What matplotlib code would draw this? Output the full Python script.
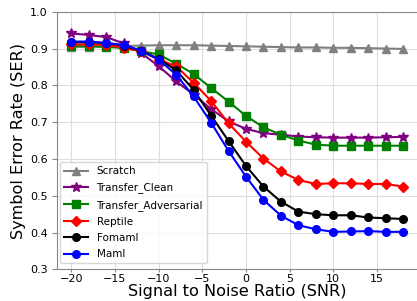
import matplotlib
matplotlib.use('Agg')
from matplotlib import pyplot as plt

# SNR points
snr = [-20, -18, -16, -14, -12, -10, -8, -6, -4, -2, 0, 2, 4, 6, 8, 10, 12, 14, 16, 18]

# symbol error rate per method
scratch = [0.905, 0.905, 0.906, 0.907, 0.908, 0.909, 0.909, 0.909, 0.908, 0.907,
           0.906, 0.905, 0.904, 0.903, 0.903, 0.902, 0.902, 0.901, 0.900, 0.899]
transfer_clean = [0.941, 0.937, 0.931, 0.914, 0.888, 0.852, 0.811, 0.775, 0.736, 0.702,
                  0.682, 0.670, 0.666, 0.661, 0.659, 0.658, 0.658, 0.658, 0.659, 0.660]
transfer_adv = [0.906, 0.906, 0.905, 0.901, 0.893, 0.884, 0.859, 0.831, 0.793, 0.756,
                0.717, 0.686, 0.666, 0.650, 0.639, 0.636, 0.636, 0.636, 0.636, 0.636]
reptile = [0.911, 0.911, 0.910, 0.902, 0.893, 0.870, 0.852, 0.807, 0.758, 0.697,
           0.647, 0.601, 0.566, 0.543, 0.532, 0.534, 0.534, 0.532, 0.532, 0.525]
fomaml = [0.917, 0.917, 0.915, 0.908, 0.894, 0.872, 0.841, 0.788, 0.718, 0.649,
          0.581, 0.525, 0.484, 0.457, 0.450, 0.447, 0.447, 0.441, 0.439, 0.437]
maml = [0.919, 0.919, 0.915, 0.910, 0.894, 0.870, 0.829, 0.770, 0.699, 0.622,
        0.552, 0.489, 0.446, 0.420, 0.409, 0.402, 0.403, 0.404, 0.402, 0.402]

fig = plt.figure(figsize=(4.17, 3.01), dpi=100)
ax = fig.add_axes([0.1375, 0.105, 0.865, 0.856])

ax.plot(snr, scratch, '-^', c='gray', lw=1.5, ms=6, label='Scratch')
ax.plot(snr, transfer_clean, '-*', c='purple', lw=1.5, ms=7.5, label='Transfer_Clean')
ax.plot(snr, transfer_adv, '-s', c='green', lw=1.5, ms=5.5, label='Transfer_Adversarial')
ax.plot(snr, reptile, '-D', c='red', lw=1.5, ms=5, label='Reptile')
ax.plot(snr, fomaml, '-o', c='black', lw=1.5, ms=5.5, label='Fomaml')
ax.plot(snr, maml, '-o', c='blue', lw=1.5, ms=5.5, label='Maml')

ax.set_xlim(-21.6, 19.7)
ax.set_ylim(0.3, 1.0)
ax.set_xticks([-20, -15, -10, -5, 0, 5, 10, 15])
ax.grid(True, color='#dddddd', lw=0.8)
ax.set_axisbelow(True)
for s in ax.spines.values():
    s.set_color('#888888')
ax.tick_params(labelsize=8, color='#888888')
ax.tick_params(axis='x', length=2, pad=1.5)

ax.set_xlabel('Signal to Noise Ratio (SNR)', fontsize=11.6, labelpad=0)
ax.set_ylabel('Symbol Error Rate (SER)', fontsize=11.6, labelpad=3)

ax.legend(loc='lower left', bbox_to_anchor=(0.0075, 0.023), borderaxespad=0,
          fontsize=7.5, labelspacing=0.6, handlelength=2.3, framealpha=0.8)

fig.savefig('out.png', dpi=100)
